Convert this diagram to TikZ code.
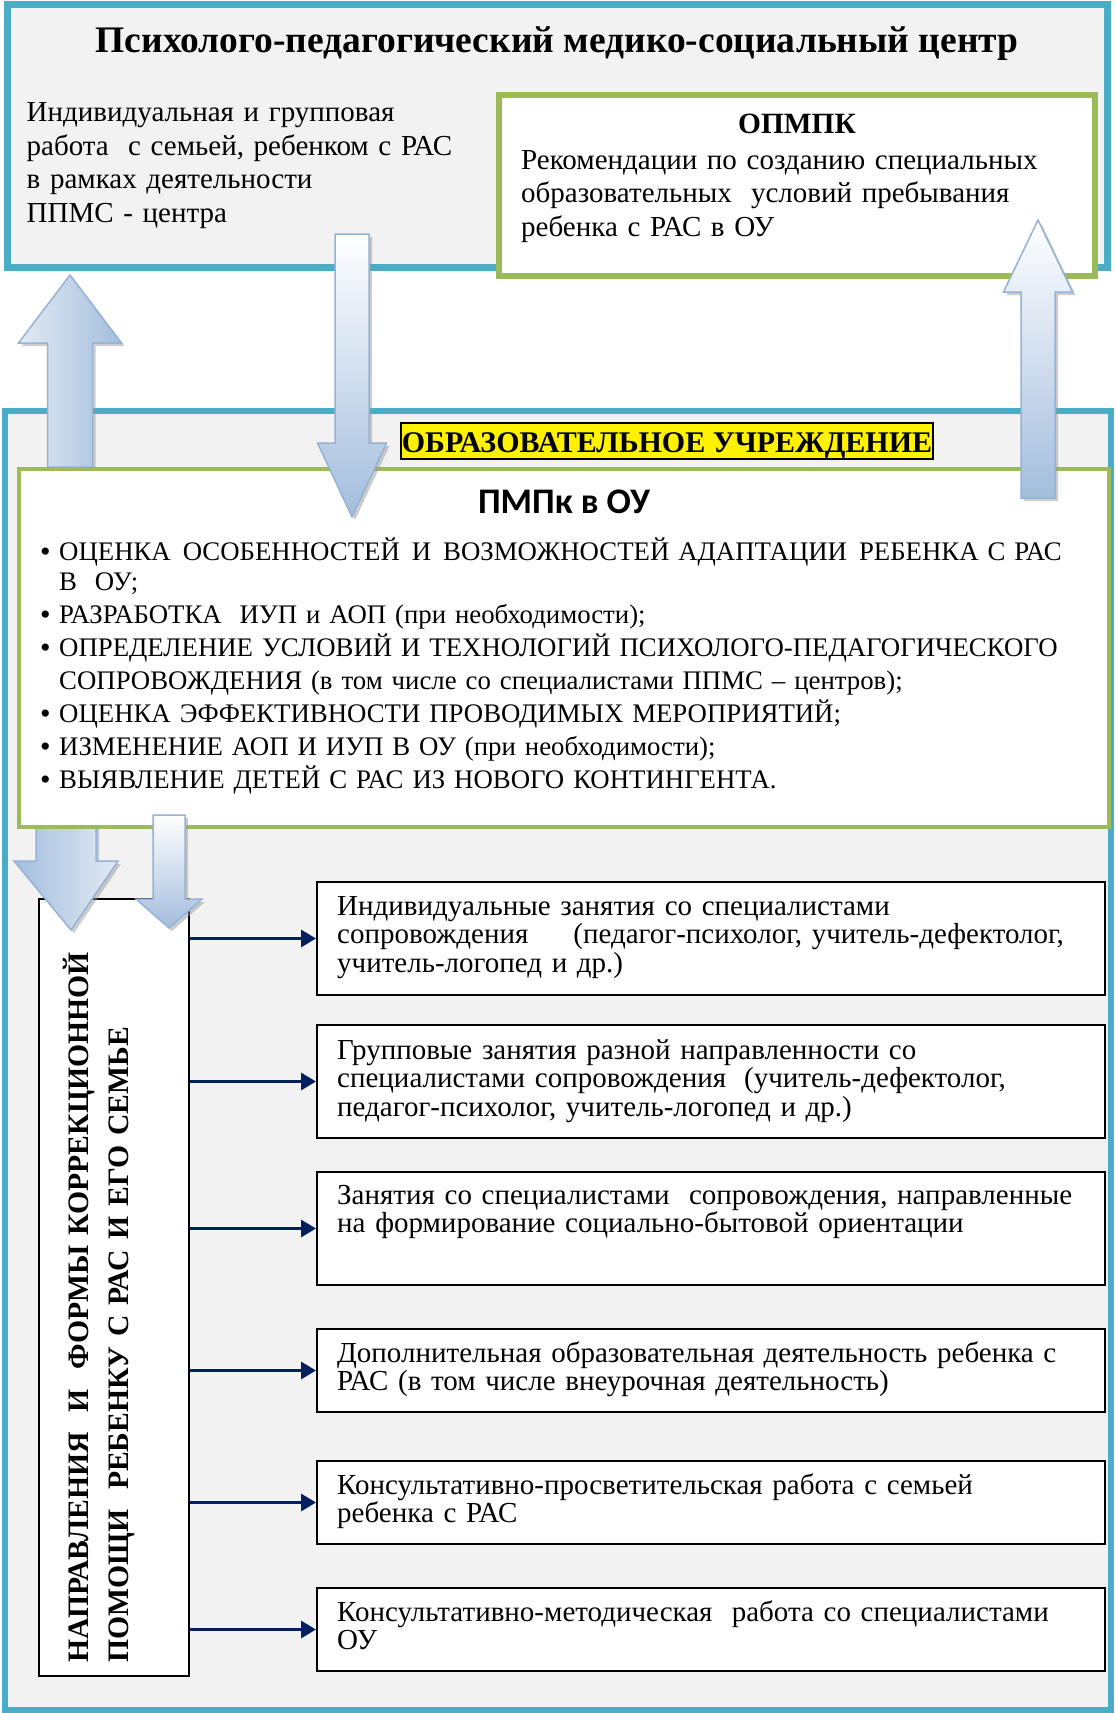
\documentclass[tikz,border=0pt]{standalone}
\usepackage{fontspec}
\setmainfont{Liberation Serif}
\newfontfamily\calibri{Carlito}
\usetikzlibrary{calc,arrows.meta,fit,shadows}
\definecolor{cteal}{HTML}{4BACC6}
\definecolor{cgreen}{HTML}{9BBB59}
\definecolor{cgray}{HTML}{F2F2F2}
\definecolor{cnavy}{HTML}{002060}
\definecolor{cblue}{HTML}{A3BDDD}
\definecolor{cpale}{HTML}{E2EAF4}
\definecolor{cedge}{HTML}{95B3D7}
\tikzstyle{centre} = [draw=cteal, fill=cgray, inner sep=0pt]
\tikzstyle{greenbox} = [draw=cgreen, fill=white, inner sep=0pt]
\tikzstyle{item} = [draw=black, line width=2pt, fill=white, inner sep=0pt]
\tikzstyle{txt} = [inner sep=0pt, anchor=base west, align=left]
\tikzstyle{link} = [draw=cnavy, line width=3.2pt, -{Triangle[length=15pt,width=17pt]}]
\tikzstyle{block} = [draw=cedge, line width=1.5pt, line join=miter,
  drop shadow={shadow xshift=3pt, shadow yshift=-3pt, fill=black!40, opacity=.5}]
\tikzstyle{blockv} = [block, top color=white, bottom color=cblue]
\newcommand{\itemfont}{\fontsize{29}{28.5}\selectfont}
\newcommand{\pmpkbullet}{\makebox[19pt][l]{\raisebox{-1pt}{\fontsize{30}{30}\selectfont\textbullet}}}
\newcommand{\pmpkindent}{\hspace*{19pt}}
% [style]{tail}{tip}{shaft half width}{head half width}{head length, signed}
\newcommand{\blockarrow}[6][]{%
  \path[#1] let \p1=(#2), \p2=(#3), \p3=($(#3)+(0,#6)$) in
    (\x1-#4pt,\y1) -- (\x1-#4pt,\y3) -- (\x1-#5pt,\y3) -- (\x2,\y2)
    -- (\x1+#5pt,\y3) -- (\x1+#4pt,\y3) -- (\x1+#4pt,\y1) -- cycle;}
\begin{document}
\begin{tikzpicture}[x=1pt, y=-1pt, >=stealth]
\useasboundingbox (0,0) rectangle (1116,1713);

% centre
\node (ppms) [centre, line width=7pt, fit={(7,4) (1107,267)}] {};
\node (ppmstitle) [txt, anchor=base, font=\bfseries\fontsize{37.5}{40}\selectfont]
  at ($(ppms.north)+(0,52)$) {Психолого-педагогический медико-социальный центр};
\node (ppmstext) [txt, text width=460pt, font=\fontsize{29}{33.7}\selectfont]
  at ($(ppms.north west)+(23,121)$)
  {Индивидуальная и групповая\\работа\ \ с семьей, ребенком с РАС\\в рамках деятельности\\ППМС - центра};

\node (opmpk) [greenbox, line width=6pt, fit={(499,95) (1095,276)}] {};
\node (opmpktitle) [txt, anchor=base, font=\bfseries\fontsize{29.4}{33}\selectfont]
  at ($(opmpk.north)+(0,41)$) {ОПМПК};
\node (opmpktext) [txt, text width=575pt, font=\fontsize{29}{33.7}\selectfont]
  at ($(opmpk.north west)+(25,77)$)
  {Рекомендации по созданию специальных\\образовательных\ \ условий пребывания\\ребенка с РАС в ОУ};

% school
\node (ou) [centre, line width=6pt, fit={(5,411) (1111,1710)}] {};
\node (oulabel) [draw=black, fill=yellow, line width=2.5pt, inner xsep=1pt, inner ysep=2pt,
  text height=27pt, text depth=5pt, anchor=base, font=\bfseries\fontsize{30}{30}\selectfont]
  at (667,452) {ОБРАЗОВАТЕЛЬНОЕ УЧРЕЖДЕНИЕ};

\node (vbox) [item, fit={(39,899) (189,1676)}] {};
\node (vlabel) [txt, rotate=90, text width=760pt, font=\bfseries\fontsize{29.7}{40}\selectfont]
  at (88,1663) {НАПРАВЛЕНИЯ\ \ И\ \ ФОРМЫ КОРРЕКЦИОННОЙ\\ПОМОЩИ\ \ РЕБЕНКУ С РАС И ЕГО СЕМЬЕ};

% block arrows under the PMPk box
\coordinate (upl tail) at (70,467);
\coordinate (upl tip) at (70,275);
\coordinate (big tail) at (66,815);
\coordinate (big tip) at (71,930);
\blockarrow[block, left color=cpale, right color=cblue]{upl tail}{upl tip}{22.5}{51.5}{68}
\blockarrow[block, left color=cblue, right color=cpale]{big tail}{big tip}{30}{52}{-69}

\node (pmpk) [greenbox, line width=4pt, fit={(19,469) (1109,827)}] {};
\node (pmpktitle) [txt, anchor=base, font=\calibri\bfseries\fontsize{36}{36}\selectfont]
  at ($(pmpk.north)+(0,46)$) {ПМПк в ОУ};
\node (pmpktext) [txt, text width=1070pt, font=\fontsize{26.8}{33}\selectfont]
  at (40,560)
  {\pmpkbullet ОЦЕНКА\hspace{12pt}ОСОБЕННОСТЕЙ\hspace{12pt}И\hspace{12pt}ВОЗМОЖНОСТЕЙ АДАПТАЦИИ\hspace{12pt}РЕБЕНКА С РАС\\[-3pt]
   \pmpkindent В\ \ ОУ;\\
   \pmpkbullet РАЗРАБОТКА\ \ ИУП и АОП (при необходимости);\\
   \pmpkbullet ОПРЕДЕЛЕНИЕ УСЛОВИЙ И ТЕХНОЛОГИЙ ПСИХОЛОГО-ПЕДАГОГИЧЕСКОГО\\
   \pmpkindent СОПРОВОЖДЕНИЯ (в том числе со специалистами ППМС – центров);\\
   \pmpkbullet ОЦЕНКА ЭФФЕКТИВНОСТИ ПРОВОДИМЫХ МЕРОПРИЯТИЙ;\\
   \pmpkbullet ИЗМЕНЕНИЕ АОП И ИУП В ОУ (при необходимости);\\
   \pmpkbullet ВЫЯВЛЕНИЕ ДЕТЕЙ С РАС ИЗ НОВОГО КОНТИНГЕНТА.};

% block arrows over the boxes
\coordinate (mid tail) at (352,234);
\coordinate (mid tip) at (352,517);
\coordinate (upr tail) at (1038,498);
\coordinate (upr tip) at (1038,220);
\coordinate (small tail) at (169,815);
\coordinate (small tip) at (169,928);
\blockarrow[blockv]{mid tail}{mid tip}{17}{34.5}{-74}
\blockarrow[blockv]{upr tail}{upr tip}{17}{34.5}{72}
\blockarrow[blockv]{small tail}{small tip}{16}{33}{-29}

% forms of help
\node (b1) [item, fit={(317,882) (1105,995)}] {};
\node (b2) [item, fit={(317,1025) (1105,1138)}] {};
\node (b3) [item, fit={(317,1172) (1105,1285)}] {};
\node (b4) [item, fit={(317,1329) (1105,1412)}] {};
\node (b5) [item, fit={(317,1461) (1105,1544)}] {};
\node (b6) [item, fit={(317,1588) (1105,1671)}] {};

\node (b1text) [txt, text width=780pt, font=\itemfont] at ($(b1.north west)+(21,34)$)
  {Индивидуальные занятия со специалистами\\сопровождения\hspace{45pt}(педагог-психолог, учитель-дефектолог,\\учитель-логопед и др.)};
\node (b2text) [txt, text width=780pt, font=\itemfont] at ($(b2.north west)+(21,35)$)
  {Групповые занятия разной направленности со\\специалистами сопровождения\hspace{18pt}(учитель-дефектолог,\\педагог-психолог, учитель-логопед и др.)};
\node (b3text) [txt, text width=780pt, font=\itemfont] at ($(b3.north west)+(21,33)$)
  {Занятия со специалистами\ \ сопровождения, направленные\\на формирование социально-бытовой ориентации};
\node (b4text) [txt, text width=780pt, font=\itemfont] at ($(b4.north west)+(21,34)$)
  {Дополнительная образовательная деятельность ребенка с\\РАС (в том числе внеурочная деятельность)};
\node (b5text) [txt, text width=780pt, font=\itemfont] at ($(b5.north west)+(21,34)$)
  {Консультативно-просветительская работа с семьей\\ребенка с РАС};
\node (b6text) [txt, text width=780pt, font=\itemfont] at ($(b6.north west)+(21,34)$)
  {Консультативно-методическая\ \ работа со специалистами\\ОУ};

% edges
\foreach \i in {1,...,6}
  \draw[link] (b\i.west -| vbox.east) -- (b\i.west);

\end{tikzpicture}
\end{document}
